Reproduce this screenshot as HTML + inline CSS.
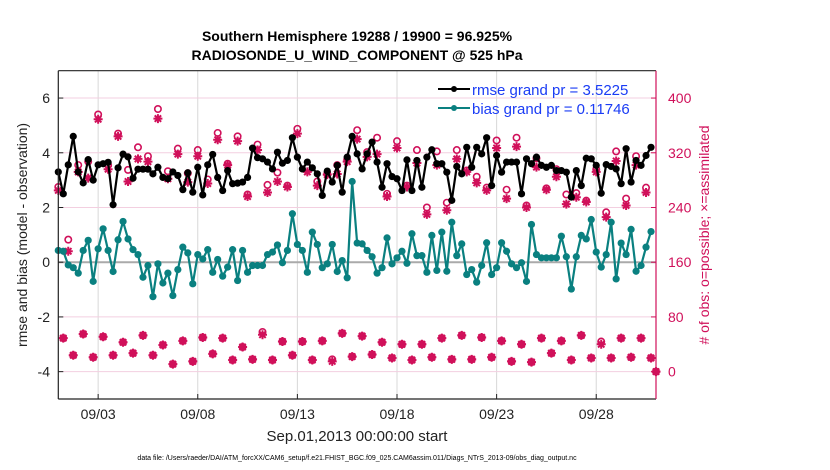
<!DOCTYPE html>
<html><head><meta charset="utf-8"><style>
body{margin:0;background:#fff;}
svg{display:block;font-family:"Liberation Sans",sans-serif;}
</style></head><body>
<svg id="chart" width="830" height="470" viewBox="0 0 830 470">
<text x="357" y="41" text-anchor="middle" font-size="14" font-weight="bold">Southern Hemisphere 19288 / 19900 = 96.925%</text>
<text x="357" y="60" text-anchor="middle" font-size="14" font-weight="bold">RADIOSONDE_U_WIND_COMPONENT @ 525 hPa</text>
<g id="grid"></g>
<g id="series"></g>
<g id="axes"></g>
<text transform="translate(27,235) rotate(-90)" text-anchor="middle" font-size="14" fill="#222">rmse and bias (model - observation)</text>
<text transform="translate(709,235) rotate(-90)" text-anchor="middle" font-size="14" fill="#d0105a"># of obs: o=possible; ×=assimilated</text>
<text x="357" y="441" text-anchor="middle" font-size="15" fill="#222">Sep.01,2013 00:00:00 start</text>
<text x="357" y="460" text-anchor="middle" font-size="7" fill="#000">data file: /Users/raeder/DAI/ATM_forcXX/CAM6_setup/f.e21.FHIST_BGC.f09_025.CAM6assim.011/Diags_NTrS_2013-09/obs_diag_output.nc</text>
<g>
<line x1="438" y1="89" x2="470" y2="89" stroke="#000" stroke-width="2"/>
<circle cx="454" cy="89" r="3" fill="#000"/>
<text x="472" y="95" font-size="15" fill="#1a3cf5">rmse grand pr = 3.5225</text>
<line x1="438" y1="108" x2="470" y2="108" stroke="#0a8080" stroke-width="2"/>
<circle cx="454" cy="108" r="3" fill="#0a8080"/>
<text x="472" y="114" font-size="15" fill="#1a3cf5">bias grand pr = 0.11746</text>
</g>
</svg>
<script>
const rmse=[3.3,2.5,3.56,4.6,3.3,2.9,3.75,3.0,3.56,3.6,3.65,2.1,3.45,3.95,3.85,3.07,3.4,3.4,3.4,3.23,3.47,3.1,3.05,3.3,3.17,2.65,3.27,2.56,3.47,2.46,3.56,3.94,3.1,2.62,3.35,2.87,2.89,2.93,3.1,4.17,3.82,3.78,3.66,3.41,4.02,3.62,3.72,4.55,3.84,3.41,3.66,3.45,3.23,2.44,3.33,2.93,3.54,2.56,3.84,
4.6,3.96,3.41,3.96,4.39,3.66,2.74,3.6,3.13,3.05,2.62,3.74,2.62,3.72,2.74,3.84,4.11,3.6,3.6,3.29,2.26,3.5,3.23,4.2,3.47,4.2,3.96,4.55,2.8,3.9,3.29,3.66,3.66,3.66,2.5,3.78,3.6,3.84,3.54,3.47,3.54,3.35,3.35,3.29,2.38,3.35,2.8,3.8,3.78,3.54,2.52,3.57,3.5,3.41,2.87,4.15,2.93,3.72,3.54,3.9,4.2];
const bias=[0.43,0.4,-0.1,-0.2,-0.4,0.43,0.8,-0.7,0.49,1.22,0.43,-0.34,0.82,1.49,0.85,0.46,0.28,-0.55,-0.12,-1.26,-0.06,-0.76,-0.4,-1.22,-0.27,0.55,0.34,-0.79,0.28,0.12,0.46,-0.37,0.1,-0.51,-0.18,0.46,-0.67,0.43,-0.37,-0.12,-0.12,-0.12,0.28,0.37,0.63,-0.02,0.43,1.77,0.65,0.43,-0.37,1.1,0.65,-0.2,-0.06,0.65,-0.34,0.06,-0.57,
2.95,0.7,0.67,0.43,0.2,-0.4,-0.2,0.89,-0.06,0.16,0.4,-0.04,1.04,0.24,0.24,-0.37,0.98,-0.3,1.1,-0.33,1.46,0.24,0.67,-0.45,-0.27,-0.73,-0.12,0.71,-0.45,-0.2,0.71,0.4,-0.06,-0.2,-0.02,-0.7,1.38,0.28,0.16,0.16,0.16,0.16,0.95,0.2,-0.98,0.2,0.98,0.85,1.56,0.37,-0.18,0.28,1.46,-0.61,0.7,0.28,1.2,-0.33,-0.12,0.55,1.12];
const obsPossible=[270,49,193,24,302,55,307,21,376,51,302,24,348,43,295,27,328,53,315,24,384,39,293,11,326,45,290,15,324,50,281,26,349,49,304,17,344,36,259,18,332,58,273,17,291,44,272,24,355,44,298,17,278,45,289,18,302,56,310,22,
353,52,321,25,342,43,260,20,337,40,272,17,324,40,240,21,322,49,247,18,324,53,294,18,285,50,269,21,338,45,266,15,342,40,243,14,312,49,268,27,296,45,259,17,261,53,250,20,296,44,233,20,322,49,253,21,315,49,269,20,0];
const obsUsed=[265,49,176,24,292,55,283,21,369,51,296,24,344,43,278,27,311,53,307,24,370,39,282,11,318,45,277,15,315,50,275,26,339,49,302,17,337,36,256,18,324,54,262,17,278,44,270,24,348,44,292,17,272,45,288,15,289,56,307,22,
340,52,314,25,318,43,256,20,327,40,270,17,305,40,230,21,302,49,236,18,311,53,292,18,276,50,265,21,327,45,253,15,329,40,240,14,299,49,266,27,285,45,245,17,255,53,248,20,292,40,226,20,308,49,243,21,302,49,262,20,0];
const xTickDays=[2,7,12,17,22,27];
const xTickLabels=["09/03","09/08","09/13","09/18","09/23","09/28"];
const leftTicks=[-4,-2,0,2,4,6];
const rightTicks=[0,80,160,240,320,400];

const NS="http://www.w3.org/2000/svg";
const L=58.3,R=656,T=70.7,B=399;
const X=d=>L+(d/30)*(R-L);          // d in days since Sep 1 00Z
const Y=v=>T+(7-v)/12*(B-T);        // left axis -5..7
const Y2=c=>T+(440-c)/480*(B-T);    // right axis -40..440
function mk(tag,attrs,parent){const e=document.createElementNS(NS,tag);for(const k in attrs)e.setAttribute(k,attrs[k]);parent.appendChild(e);return e;}
const grid=document.getElementById('grid'),ser=document.getElementById('series'),axes=document.getElementById('axes');

xTickDays.forEach((d,i)=>{
  const l=mk('line',{x1:X(d),x2:X(d),y1:T,y2:B,stroke:'#d8d8d8','stroke-width':1},grid);
  
  
  const t=mk('text',{x:X(d),y:419,'text-anchor':'middle','font-size':14,fill:'#222'},axes);
  t.textContent=xTickLabels[i];
  
  
  mk('line',{x1:X(d),x2:X(d),y1:B,y2:B-5,stroke:'#222'},axes);
});
rightTicks.forEach(c=>{
  const l=mk('line',{x1:L,x2:R,y1:Y2(c),y2:Y2(c),stroke:'#f3cfe0','stroke-width':1},grid);
  
  
  const t=mk('text',{x:668,y:Y2(c)+5,'font-size':14,fill:'#d0105a'},axes);
  t.textContent=c;
  
  
  mk('line',{x1:R,x2:R-5,y1:Y2(c),y2:Y2(c),stroke:'#d0105a'},axes);
});
leftTicks.forEach(v=>{
  const t=mk('text',{x:50,y:Y(v)+5,'text-anchor':'end','font-size':14,fill:'#222'},axes);
  t.textContent=v;
  
  
  mk('line',{x1:L,x2:L+5,y1:Y(v),y2:Y(v),stroke:'#222'},axes);
});
const z=mk('line',{x1:L,x2:R,y1:Y(0),y2:Y(0),stroke:'#aaa','stroke-width':2},grid);



// obs markers
const pink='#d0105a';
obsPossible.forEach((c,i)=>{
  const x=X(i/4);
  const o=mk('circle',{cx:x,cy:Y2(c),r:3.2,fill:'none',stroke:pink,'stroke-width':1.6},ser);
  
  
});
obsUsed.forEach((c,i)=>{
  const x=X(i/4),y=Y2(c),s=4.5;
  const g=mk('path',{d:`M${x-s},${y}H${x+s}M${x},${y-s}V${y+s}M${x-3.2},${y-3.2}L${x+3.2},${y+3.2}M${x-3.2},${y+3.2}L${x+3.2},${y-3.2}`,stroke:pink,'stroke-width':2},ser);
  
  
});
function line(arr,color,name){
  const p=mk('polyline',{points:arr.map((v,i)=>X(i/4)+','+Y(v)).join(' '),fill:'none',stroke:color,'stroke-width':2.2,'stroke-linejoin':'round'},ser);
  
  
  arr.forEach((v,i)=>{
    const c=mk('circle',{cx:X(i/4),cy:Y(v),r:3.6,fill:color},ser);
    
    
  });
}
line(bias,'#0a8080','bias');
line(rmse,'#000','rmse');

mk('line',{x1:L,x2:L,y1:T,y2:B,stroke:'#222','stroke-width':1.2},axes);
mk('line',{x1:L,x2:R,y1:B,y2:B,stroke:'#222','stroke-width':1.2},axes);
mk('line',{x1:L,x2:R,y1:T,y2:T,stroke:'#222','stroke-width':1.2},axes);
mk('line',{x1:R,x2:R,y1:T,y2:B,stroke:pink,'stroke-width':1.2},axes);
</script>
</body></html>
